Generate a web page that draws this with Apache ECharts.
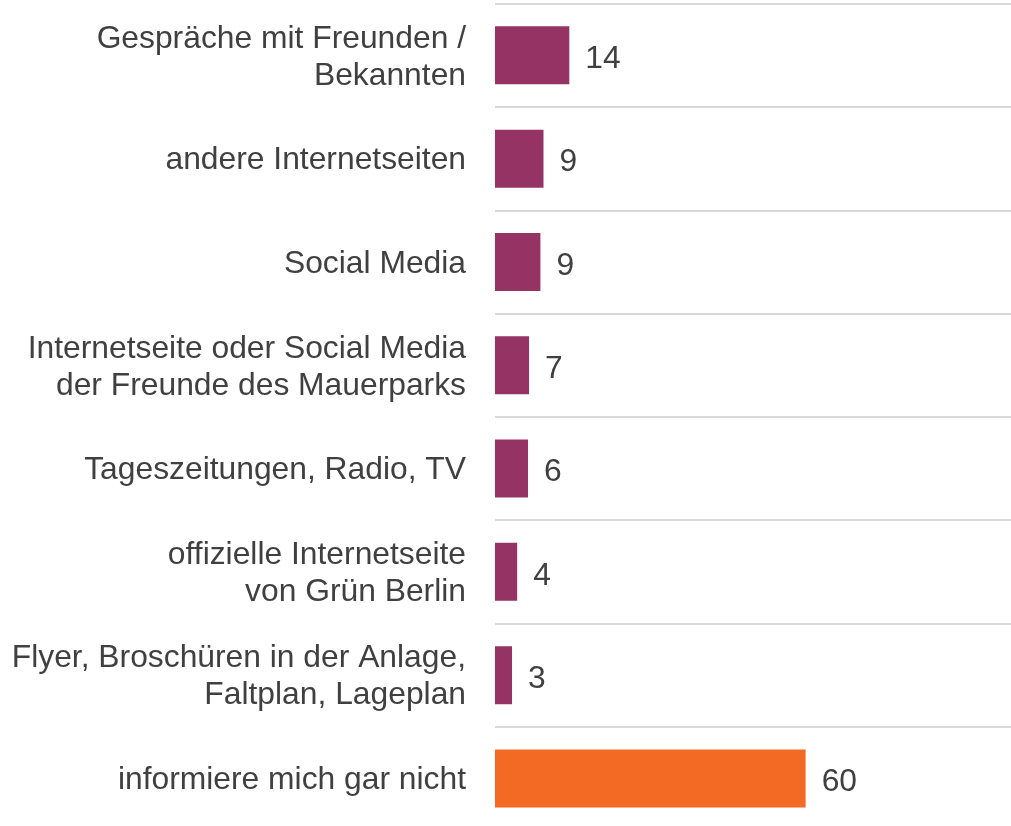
<!DOCTYPE html>
<html>
<head>
<meta charset="utf-8">
<script src="https://cdn.jsdelivr.net/npm/echarts@6/dist/echarts.min.js"></script>
<style>
html,body{margin:0;padding:0;background:#fff;}
#chart{width:1011px;height:826px;}
</style>
</head>
<body>
<div id="chart"></div>
<script>
const categories = [
  'Gespräche mit Freunden /\nBekannten',
  'andere Internetseiten',
  'Social Media',
  'Internetseite oder Social Media\nder Freunde des Mauerparks',
  'Tageszeitungen, Radio, TV',
  'offizielle Internetseite\nvon Grün Berlin',
  'Flyer, Broschüren in der Anlage,\nFaltplan, Lageplan',
  'informiere mich gar nicht'
];
const values = [14.4, 9.4, 8.8, 6.6, 6.4, 4.3, 3.3, 60.2];
const highlighted = ['informiere mich gar nicht'];

const PURPLE = '#953365';
const ORANGE = '#f26a24';
const TEXT = '#404040';
const FONT = '"Liberation Sans", Arial, sans-serif';

const chart = echarts.init(document.getElementById('chart'), null, {renderer: 'canvas'});
chart.setOption({
  animation: false,
  backgroundColor: '#ffffff',
  grid: {left: 495, right: 0, top: 3.7, height: 826.4, containLabel: false, outerBoundsMode: 'none'},
  xAxis: {
    type: 'value', min: 0, max: 100, show: false,
    splitLine: {show: false}
  },
  yAxis: {
    type: 'category',
    data: categories,
    inverse: true,
    axisLine: {show: false},
    axisTick: {show: false},
    splitLine: {show: true, lineStyle: {color: '#d9d9d9', width: 2}},
    axisLabel: {
      margin: 29,
      align: 'right',
      formatter: v => v.split('\n').map(s => '{t|' + s + '}').join('\n'),
      rich: {
        t: {
          color: TEXT,
          fontFamily: FONT,
          fontSize: 31.8,
          lineHeight: 37,
          padding: [4, 0, 0, 0]
        }
      }
    }
  },
  series: [{
    type: 'bar',
    data: values,
    barWidth: 58,
    itemStyle: {
      color: p => highlighted.includes(categories[p.dataIndex]) ? ORANGE : PURPLE
    },
    label: {
      show: true,
      position: 'right',
      distance: 16,
      offset: [0, 4],
      color: TEXT,
      fontFamily: FONT,
      fontSize: 31.8,
      formatter: p => String(Math.round(p.value))
    }
  }]
});
</script>
</body>
</html>
